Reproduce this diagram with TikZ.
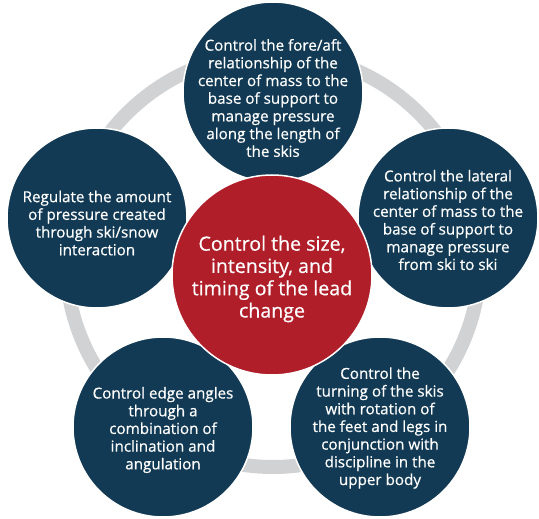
\documentclass[tikz,border=0pt]{standalone}
\usepackage{fontspec}
\newfontfamily\semib{Open Sans}[FakeBold=0.5]
\definecolor{navy}{HTML}{123A54}
\definecolor{redc}{HTML}{B01F29}
\definecolor{ringgray}{HTML}{D1D2D4}
\begin{document}
\begin{tikzpicture}[x=1pt,y=-1pt,
  bub/.style={circle, fill=navy, draw=white, line width=1.5pt, minimum size=180pt, inner sep=0pt},
  bubtext/.style={text=white, align=center, inner sep=0pt, font=\semib\fontsize{15.2}{17.7}\selectfont},
  core/.style={circle, fill=redc, draw=white, line width=1.5pt, minimum size=200pt, inner sep=0pt},
  coretext/.style={text=white, align=center, inner sep=0pt, font=\semib\fontsize{19.6}{22.3}\selectfont}]
\useasboundingbox (0,0) rectangle (539,519);
\draw[ringgray, line width=14pt] (273,260) circle[radius=207];
\node[bub] (top) at (273,92) {};
\node[bubtext] (top-t) at ([yshift=-6pt]top.center) {Control the fore/aft\\relationship of the\\center of mass to the\\base of support to\\manage pressure\\along the length of\\the skis};
\node[bub] (right) at (448,218) {};
\node[bubtext] (right-t) at ([yshift=-2pt]right.center) {Control the lateral\\relationship of the\\center of mass to the\\base of support to\\manage pressure\\from ski to ski};
\node[bub] (left) at (97,218) {};
\node[bubtext] (left-t) at ([yshift=-5pt]left.center) {Regulate the amount\\of pressure created\\through ski/snow\\interaction};
\node[bub] (bl) at (163,427) {};
\node[bubtext] (bl-t) at ([yshift=-3pt]bl.center) {Control edge angles\\through a\\combination of\\inclination and\\angulation};
\node[bub] (br) at (380,427) {};
\node[bubtext] (br-t) at ([yshift=-1pt]br.center) {Control the\\turning of the skis\\with rotation of\\the feet and legs in\\conjunction with\\discipline in the\\upper body};
\node[core] (center) at (272,275) {};
\node[coretext] (center-t) at ([yshift=-4pt]center.center) {Control the size,\\intensity, and\\timing of the lead\\change};
\end{tikzpicture}
\end{document}
